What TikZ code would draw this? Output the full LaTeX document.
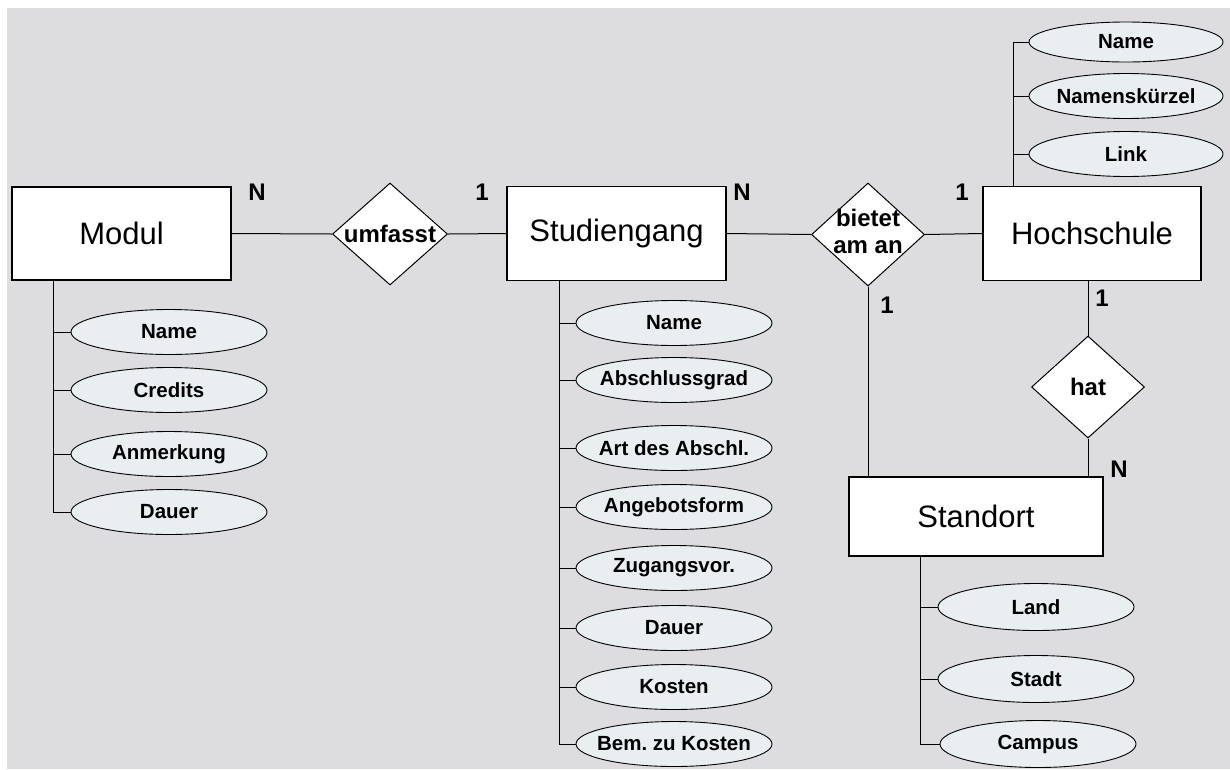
\documentclass[tikz,border=0pt]{standalone}
\usepackage{fontspec}
\setmainfont{Liberation Sans}
\usetikzlibrary{shapes.geometric}
\frenchspacing
\definecolor{bggray}{RGB}{221,221,224}
\definecolor{attrfill}{RGB}{233,239,241}
\newcommand\zbox[1]{\makebox[0pt]{#1}}
\tikzset{
  entity/.style={draw, line width=1.2pt, fill=white, rectangle, inner sep=0pt,
    font=\fontsize{31}{35}\selectfont},
  rel/.style={draw, line width=1pt, fill=white, diamond, inner sep=0pt, aspect=1,
    font=\fontsize{24}{28}\selectfont\bfseries},
  attr/.style={draw, line width=0.9pt, fill=attrfill, ellipse, inner sep=0pt,
    minimum width=196pt, minimum height=45pt, font=\fontsize{20.5}{24}\selectfont\bfseries},
  card/.style={inner sep=0pt, font=\fontsize{24}{28}\selectfont\bfseries},
  conn/.style={line width=1pt, draw=black}
}
\begin{document}
\begin{tikzpicture}[x=1pt, y=-1pt]
\useasboundingbox (0,0) rectangle (1230,769);
\fill[bggray] (7,8) rectangle (1230,769);

% entities
\node[entity, minimum width=219pt, minimum height=93pt] (modul) at (121.5,233.5) {Modul};
\node[entity, minimum width=219pt, minimum height=94pt] (studiengang) at (616.5,233.5) {Studiengang};
\node[entity, minimum width=218pt, minimum height=94pt] (hochschule) at (1092,233.5) {Hochschule};
\node[entity, minimum width=254pt, minimum height=79pt] (standort) at (976,516.5) {Standort};

% relationships
\node[rel, minimum width=115pt, minimum height=102pt] (umfasst) at (390,234) {\zbox{umfasst}};
\node[rel, minimum width=113pt, minimum height=103pt] (bietet) at (868,234.5)
  {\zbox{\begin{tabular}{@{}c@{}}bietet\\[-1pt]am an\end{tabular}}};
\node[rel, minimum width=113pt, minimum height=102pt] (hat) at (1088,387) {\zbox{hat}};

% connectors between entities and relationships
\draw[conn] (modul.east) -- (umfasst.west);
\draw[conn] (umfasst.east) -- (studiengang.west);
\draw[conn] (studiengang.east) -- (bietet.west);
\draw[conn] (bietet.east) -- (hochschule.west);
\draw[conn] (bietet.south) -- (bietet.south |- standort.north);
\draw[conn] (hat.north) -- (hat.north |- hochschule.south);
\draw[conn] (hat.south) -- (hat.south |- standort.north);

% cardinalities
\node[card] (c1) at (257,192) {N};
\node[card] (c2) at (482,192) {1};
\node[card] (c3) at (742,192) {N};
\node[card] (c4) at (962,192) {1};
\node[card] (c5) at (887,305) {1};
\node[card] (c6) at (1102,298) {1};
\node[card] (c7) at (1119,469) {N};

% Modul attributes
\node[attr] (m1) at (169,332) {\zbox{Name}};
\node[attr] (m2) at (169,390) {\zbox{Credits}};
\node[attr] (m3) at (169,454) {\zbox{Anmerkung}};
\node[attr] (m4) at (169,512) {\zbox{Dauer}};
\coordinate (mt) at (53,280);
\draw[conn] (mt) |- (m4.west);
\foreach \i in {1,2,3} \draw[conn] (m\i.west) -- (m\i.west -| mt);

% Studiengang attributes
\node[attr] (s1) at (674,323) {\zbox{Name}};
\node[attr] (s2) at (674,380) {\zbox{Abschlussgrad}};
\node[attr] (s3) at (674,448) {\zbox{Art des Abschl.}};
\node[attr] (s4) at (674,507) {\zbox{Angebotsform}};
\node[attr] (s5) at (674,568) {\zbox{Zugangsvor.}};
\node[attr] (s6) at (674,628) {\zbox{Dauer}};
\node[attr] (s7) at (674,687) {\zbox{Kosten}};
\node[attr] (s8) at (674,744) {\zbox{Bem. zu Kosten}};
\coordinate (st) at (559,280);
\draw[conn] (st) |- (s8.west);
\foreach \i in {1,...,7} \draw[conn] (s\i.west) -- (s\i.west -| st);

% Hochschule attributes
\node[attr, minimum width=194pt, minimum height=40pt] (h1) at (1126,42) {\zbox{Name}};
\node[attr, minimum width=194pt] (h2) at (1126,96) {\zbox{Namenskürzel}};
\node[attr, minimum width=194pt] (h3) at (1126,154) {\zbox{Link}};
\coordinate (ht) at (1013,186);
\draw[conn] (ht) |- (h1.west);
\foreach \i in {2,3} \draw[conn] (h\i.west) -- (h\i.west -| ht);

% Standort attributes
\node[attr, minimum height=47pt] (o1) at (1036,607) {\zbox{Land}};
\node[attr, minimum height=47pt] (o2) at (1036,679) {\zbox{Stadt}};
\node[attr, minimum height=47pt] (o3) at (1038,744) {\zbox{Campus}};
\coordinate (ot) at (920,556);
\draw[conn] (ot) |- (o3.west);
\foreach \i in {1,2} \draw[conn] (o\i.west) -- (o\i.west -| ot);
\end{tikzpicture}
\end{document}
